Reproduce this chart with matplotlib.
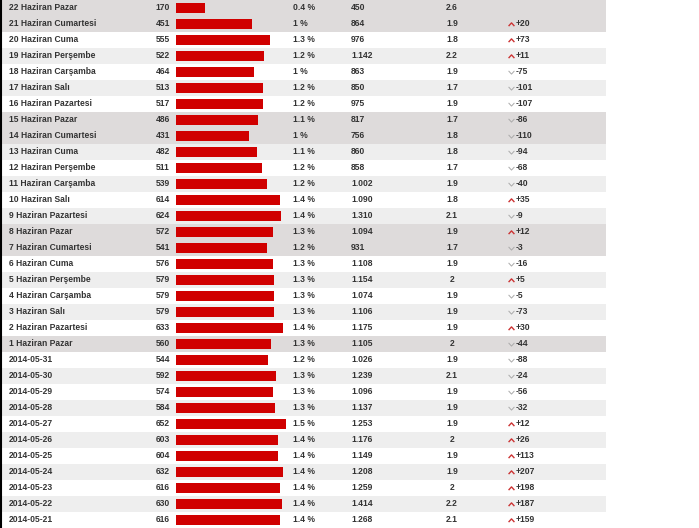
import matplotlib
matplotlib.use("Agg")
import matplotlib.pyplot as plt
from matplotlib.path import Path

# tablo verileri
gunler = ["22 Haziran Pazar", "21 Haziran Cumartesi", "20 Haziran Cuma", "19 Haziran Perşembe",
          "18 Haziran Carşamba", "17 Haziran Salı", "16 Haziran Pazartesi", "15 Haziran Pazar",
          "14 Haziran Cumartesi", "13 Haziran Cuma", "12 Haziran Perşembe", "11 Haziran Carşamba",
          "10 Haziran Salı", "9 Haziran Pazartesi", "8 Haziran Pazar", "7 Haziran Cumartesi",
          "6 Haziran Cuma", "5 Haziran Perşembe", "4 Haziran Carşamba", "3 Haziran Salı",
          "2 Haziran Pazartesi", "1 Haziran Pazar", "2014-05-31", "2014-05-30", "2014-05-29",
          "2014-05-28", "2014-05-27", "2014-05-26", "2014-05-25", "2014-05-24", "2014-05-23",
          "2014-05-22", "2014-05-21"]
ziyaret = [170, 451, 555, 522, 464, 513, 517, 486, 431, 482, 511, 539, 614, 624, 572, 541,
           576, 579, 579, 579, 633, 560, 544, 592, 574, 584, 652, 603, 604, 632, 616, 630, 616]
yuzde = ["0.4", "1", "1.3", "1.2", "1", "1.2", "1.2", "1.1", "1", "1.1", "1.2", "1.2", "1.4",
         "1.4", "1.3", "1.2", "1.3", "1.3", "1.3", "1.3", "1.4", "1.3", "1.2", "1.3", "1.3",
         "1.3", "1.5", "1.4", "1.4", "1.4", "1.4", "1.4", "1.4"]
sayfa = [450, 864, 976, 1142, 863, 850, 975, 817, 756, 860, 858, 1002, 1090, 1310, 1094, 931,
         1108, 1154, 1074, 1106, 1175, 1105, 1026, 1239, 1096, 1137, 1253, 1176, 1149, 1208,
         1259, 1414, 1268]
oran = ["2.6", "1.9", "1.8", "2.2", "1.9", "1.7", "1.9", "1.7", "1.8", "1.8", "1.7", "1.9",
        "1.8", "2.1", "1.9", "1.7", "1.9", "2", "1.9", "1.9", "1.9", "2", "1.9", "2.1", "1.9",
        "1.9", "1.9", "2", "1.9", "1.9", "2", "2.2", "2.1"]
degisim = [None, 20, 73, 11, -75, -101, -107, -86, -110, -94, -68, -40, 35, -9, 12, -3, -16,
           5, -5, -73, 30, -44, -88, -24, -56, -32, 12, 26, 113, 207, 198, 187, 159]

n = len(gunler)
satirlar = list(range(n))

fig = plt.figure(figsize=(6.99, 5.28), dpi=100)
ax = fig.add_axes([0, 0, 1, 1])
ax.set_xlim(0, 699)
ax.set_ylim(n - 0.5, -0.5)
ax.axis("off")

# satir arka planlari
renkler = []
for i, g in enumerate(gunler):
    if g.endswith("Pazar") or g.endswith("Cumartesi"):
        renkler.append("#dedbdb")
    elif i % 2 == 1:
        renkler.append("#eeeeee")
    else:
        renkler.append("#ffffff")
ax.barh(satirlar, 606, left=0, height=1.0, color=renkler, linewidth=0)
ax.axvline(0.8, color="black", linewidth=1.5)

# cubuklar
ax.barh(satirlar, [z * 0.169 for z in ziyaret], left=176, height=0.68, color="#d00000", linewidth=0)

yazi = dict(fontsize=6.15, color="#333333", fontweight="bold", va="center", family="Liberation Sans")

yukari = Path([(-1, -0.55), (0, 0.55), (1, -0.55)], [Path.MOVETO, Path.LINETO, Path.LINETO])
asagi = Path([(-1, 0.55), (0, -0.55), (1, 0.55)], [Path.MOVETO, Path.LINETO, Path.LINETO])

for i in satirlar:
    ax.text(9, i, gunler[i], ha="left", **yazi)
    ax.text(170, i, str(ziyaret[i]), ha="right", **yazi)
    ax.text(293, i, yuzde[i] + " %", ha="left", **yazi)
    ax.text(351, i, f"{sayfa[i]:,}".replace(",", "."), ha="left", **yazi)
    ax.text(452, i, oran[i], ha="center", **yazi)
    d = degisim[i]
    if d is None:
        continue
    if d > 0:
        ax.plot([510.5], [i], marker=yukari, markersize=4.2, markerfacecolor="none",
                markeredgecolor="#cc3333", markeredgewidth=1.0)
        ax.text(516, i, f"+{d}", ha="left", **yazi)
    else:
        ax.plot([510.5], [i], marker=asagi, markersize=4.2, markerfacecolor="none",
                markeredgecolor="#aaaaaa", markeredgewidth=0.7)
        ax.text(516, i, f"{d}", ha="left", **yazi)

fig.savefig("out.png", dpi=100)
